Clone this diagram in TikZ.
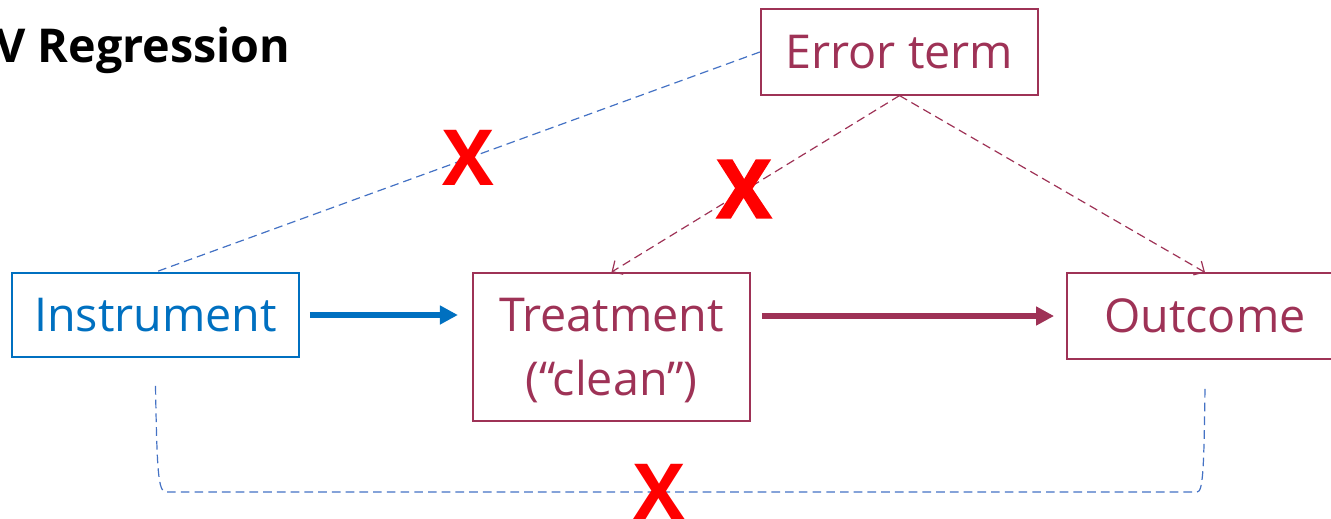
\documentclass[tikz,border=0pt]{standalone}
\usepackage{fontspec}
\setmainfont{Open Sans}
\usetikzlibrary{arrows.meta,calc}
\definecolor{ivblue}{RGB}{0,112,192}
\definecolor{dashblue}{RGB}{68,114,196}
\definecolor{wine}{RGB}{158,50,86}
\definecolor{xred}{RGB}{255,0,0}
\begin{document}
\begin{tikzpicture}[x=0.75pt,y=-0.75pt,
  box/.style={draw=wine,text=wine,line width=1.4pt,inner sep=0pt,align=center,
    font=\fontsize{35}{48}\selectfont},
  bluebox/.style={box,draw=ivblue,text=ivblue},
  mainarrow/.style={line width=4.2pt,-{Triangle[length=13.5pt,width=13.5pt]}},
  confound/.style={line width=0.9pt,dash pattern=on 6.5pt off 3.8pt},
  confarrow/.style={confound,draw=wine,-{Straight Barb[length=6pt,width=12pt,line width=0.9pt]}},
  crossmark/.style={text=xred,inner sep=0pt,font=\fontsize{58}{58}\selectfont\bfseries}
]
\useasboundingbox (0,0) rectangle (1331,518);

% heading
\node[anchor=base west,inner sep=0pt,font=\fontsize{35}{35}\selectfont\bfseries]
  (title) at (-5,62) {V Regression};

% variables
\node[bluebox,minimum width=215pt,minimum height=63pt] (inst) at (155.5,315) {Instrument};
\node[box,minimum width=208pt,minimum height=111pt] (treat) at (611.5,347) {};
\node[text=wine,align=center,inner sep=0pt,font=\fontsize{35}{48}\selectfont]
  (treatlbl) at (611.5,351) {Treatment\\(“clean”)};
\node[box,minimum width=207pt,minimum height=64pt] (outc) at (1205,316) {Outcome};
\node[box,minimum width=208pt,minimum height=64pt] (err) at (899.5,52) {Error term};

% causal paths
\draw[mainarrow,draw=ivblue,shorten <=7.5pt,shorten >=10.5pt] (inst.east) -- (inst.east -| treat.west);
\draw[mainarrow,draw=wine,shorten <=8pt,shorten >=9pt] (outc.west -| treat.east) -- (outc.west);

% links through the error term
\draw[confound,draw=dashblue] (err.west) -- (inst.north);
\draw[confarrow] (err.south) -- (treat.north);
\draw[confarrow] (err.south) -- (outc.north);

% direct link instrument -- outcome
\coordinate (ia) at ($(inst.south)+(0,28)$);
\coordinate (ob) at ($(outc.south)+(0,26)$);
\draw[confound,draw=dashblue]
  (ia) .. controls (157,470) and (158,492) .. (166,492)
  -- (1197,492) .. controls (1203,492) and (1204,470) .. (ob);

% exclusion marks
\node[crossmark] (x1) at (468,158) {X};
\node[crossmark,font=\fontsize{60}{60}\selectfont\bfseries\addfontfeatures{FakeBold=2.5}] (x2) at (744,189) {X};
\node[crossmark] (x3) at (659,492) {X};
\end{tikzpicture}
\end{document}
